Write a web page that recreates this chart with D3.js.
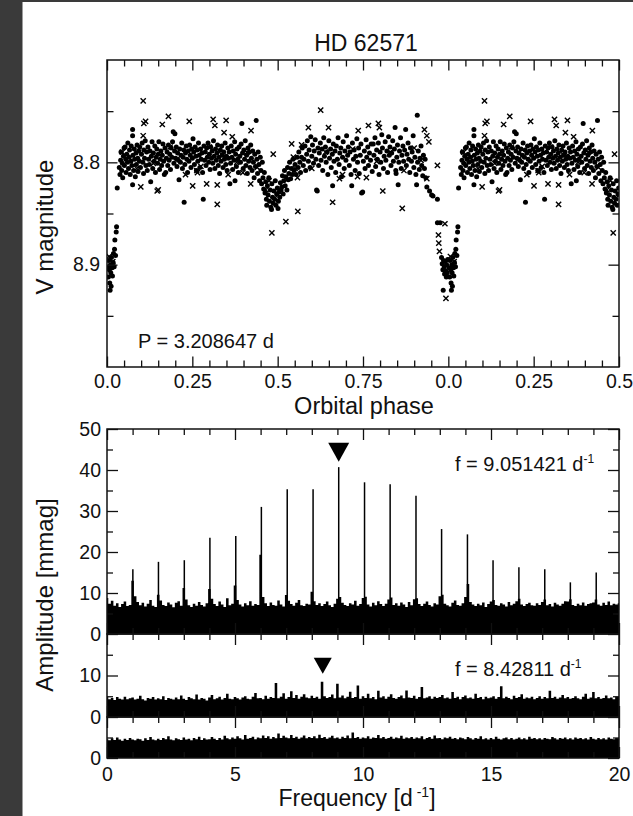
<!DOCTYPE html>
<html><head><meta charset="utf-8">
<script src="https://cdn.jsdelivr.net/npm/d3@7"></script>
<style>
body{margin:0;background:#fff}
svg{display:block}
text{font-family:"Liberation Sans",Arial,Helvetica,sans-serif;fill:#111}
</style>
</head><body>
<svg id="c" width="633" height="816"></svg>
<script>
// ---------------- DATA ----------------
const title = "HD 62571";
const periodText = "P = 3.208647 d";
// light-curve points [orbital phase, V mag], phase 0..1 (plotted again at phase+1)
const dots = [
[0.002,8.903],[0.004,8.912],[0.005,8.896],[0.007,8.905],[0.008,8.918],[0.009,8.925],[0.010,8.900],[0.011,8.908],[0.012,8.921],[0.013,8.893],[0.015,8.903],[0.016,8.911],[0.018,8.898],[0.019,8.889],[0.021,8.902],[0.022,8.885],[0.023,8.876],[0.025,8.891],[0.027,8.868],[0.028,8.863],[0.030,8.825],
[0.036,8.805],[0.038,8.812],[0.040,8.798],[0.041,8.790],[0.043,8.808],[0.045,8.801],[0.046,8.815],[0.048,8.794],[0.050,8.786],[0.051,8.803],[0.053,8.785],[0.055,8.797],[0.056,8.810],[0.058,8.792],[0.060,8.800],[0.061,8.781],[0.063,8.806],[0.065,8.795],[0.066,8.788],[0.068,8.812],[0.070,8.799],[0.071,8.784],[0.073,8.803],[0.075,8.768],[0.075,8.774],[0.075,8.822],[0.076,8.793],[0.078,8.808],[0.080,8.787],[0.081,8.797],[0.083,8.814],[0.085,8.791],[0.086,8.802],[0.088,8.783],[0.090,8.796],[0.091,8.809],[0.093,8.789],[0.095,8.799],[0.096,8.785],[0.098,8.805],
[0.101,8.792],[0.103,8.781],[0.105,8.800],[0.107,8.811],[0.108,8.788],[0.110,8.796],[0.112,8.779],[0.114,8.803],[0.116,8.790],[0.118,8.808],[0.120,8.785],[0.122,8.797],[0.124,8.802],[0.126,8.789],[0.128,8.819],[0.130,8.794],[0.132,8.780],[0.134,8.806],[0.136,8.791],[0.138,8.799],[0.140,8.784],[0.142,8.810],[0.144,8.795],[0.146,8.787],[0.148,8.801],[0.150,8.792],[0.152,8.780],[0.154,8.807],[0.156,8.797],[0.158,8.789],[0.160,8.803],[0.162,8.793],[0.164,8.782],[0.166,8.799],[0.168,8.812],[0.170,8.786],[0.172,8.810],[0.174,8.796],[0.176,8.790],[0.178,8.803],[0.180,8.783],[0.182,8.798],[0.184,8.792],[0.186,8.807],[0.188,8.786],[0.190,8.795],[0.192,8.780],[0.194,8.770],[0.196,8.801],[0.198,8.789],[0.199,8.772],[0.201,8.796],[0.203,8.785],[0.205,8.804],[0.207,8.791],[0.209,8.798],[0.211,8.817],[0.213,8.787],[0.215,8.800],[0.217,8.793],[0.219,8.781],[0.221,8.806],[0.223,8.795],[0.225,8.788],[0.226,8.839],[0.228,8.802],[0.230,8.791],[0.232,8.784],[0.234,8.797],[0.236,8.810],[0.238,8.789],[0.240,8.799],[0.242,8.783],[0.244,8.793],[0.246,8.805],[0.248,8.787],
[0.250,8.796],[0.252,8.777],[0.254,8.790],[0.256,8.802],[0.258,8.785],[0.260,8.794],[0.262,8.808],[0.264,8.788],[0.266,8.799],[0.268,8.781],[0.270,8.793],[0.272,8.805],[0.274,8.787],[0.276,8.797],[0.278,8.791],[0.280,8.810],[0.282,8.836],[0.284,8.784],[0.286,8.798],[0.288,8.790],[0.290,8.803],[0.292,8.786],[0.294,8.795],[0.296,8.781],[0.298,8.800],[0.300,8.792],[0.302,8.807],[0.304,8.785],[0.306,8.796],[0.308,8.789],[0.310,8.801],[0.312,8.779],[0.314,8.794],[0.316,8.806],[0.318,8.787],[0.320,8.798],[0.322,8.791],[0.324,8.783],[0.326,8.803],[0.328,8.795],[0.330,8.811],[0.332,8.788],[0.334,8.799],[0.336,8.784],[0.338,8.793],[0.340,8.805],[0.342,8.790],[0.344,8.797],[0.346,8.781],[0.348,8.802],[0.350,8.794],[0.352,8.808],[0.354,8.786],[0.356,8.796],[0.358,8.790],[0.360,8.821],[0.362,8.801],[0.364,8.784],[0.366,8.795],[0.368,8.807],[0.370,8.789],[0.372,8.798],[0.374,8.780],[0.375,8.818],[0.377,8.792],[0.379,8.804],[0.381,8.787],[0.383,8.797],[0.385,8.810],[0.387,8.785],[0.389,8.794],[0.391,8.800],[0.393,8.782],[0.395,8.762],[0.397,8.791],[0.399,8.806],[0.401,8.788],[0.403,8.797],[0.405,8.779],[0.407,8.803],[0.409,8.793],[0.411,8.811],[0.413,8.786],[0.415,8.799],[0.417,8.790],[0.419,8.805],[0.421,8.783],[0.423,8.796],[0.425,8.808],[0.427,8.789],[0.429,8.800],[0.431,8.815],[0.433,8.792],[0.435,8.804],[0.437,8.759],[0.439,8.797],[0.441,8.811],[0.443,8.790],[0.445,8.802],[0.447,8.818],[0.449,8.795],
[0.451,8.808],[0.453,8.821],[0.455,8.800],[0.457,8.815],[0.459,8.826],[0.461,8.810],[0.463,8.830],[0.465,8.819],[0.467,8.836],[0.468,8.842],[0.470,8.823],[0.472,8.832],[0.474,8.815],[0.476,8.838],[0.478,8.827],[0.480,8.844],[0.482,8.846],[0.483,8.821],[0.485,8.834],[0.487,8.840],[0.489,8.828],[0.491,8.836],[0.493,8.818],[0.495,8.842],[0.497,8.831],[0.499,8.825],[0.501,8.845],[0.502,8.838],[0.504,8.829],[0.506,8.834],[0.508,8.820],[0.510,8.827],[0.512,8.824],[0.514,8.813],[0.516,8.831],[0.518,8.818],[0.520,8.808],[0.522,8.823],[0.524,8.814],[0.527,8.827],[0.529,8.805],[0.531,8.817],[0.533,8.811],[0.535,8.800],[0.538,8.816],[0.540,8.806],[0.543,8.812],[0.545,8.797],[0.548,8.808],[0.551,8.802],[0.554,8.812],[0.557,8.795],
[0.560,8.805],[0.562,8.790],[0.565,8.800],[0.567,8.810],[0.570,8.795],[0.572,8.786],[0.575,8.803],[0.577,8.797],[0.580,8.784],[0.582,8.808],[0.585,8.792],[0.587,8.779],[0.590,8.799],[0.592,8.788],[0.595,8.805],[0.597,8.775],[0.600,8.794],[0.602,8.783],[0.605,8.801],[0.607,8.789],[0.610,8.778],[0.612,8.797],[0.614,8.827],[0.616,8.828],[0.618,8.786],[0.620,8.803],[0.622,8.791],[0.625,8.781],[0.627,8.798],[0.630,8.787],[0.632,8.808],[0.635,8.776],[0.637,8.794],[0.640,8.785],[0.642,8.800],[0.645,8.790],[0.647,8.812],[0.650,8.779],[0.652,8.796],[0.655,8.787],[0.657,8.805],[0.660,8.792],[0.661,8.823],[0.663,8.782],[0.665,8.799],[0.668,8.789],[0.670,8.810],[0.672,8.784],[0.675,8.797],[0.677,8.776],[0.680,8.802],[0.682,8.791],[0.685,8.786],[0.687,8.814],[0.690,8.795],[0.692,8.780],[0.695,8.806],[0.697,8.789],[0.700,8.798],[0.702,8.774],[0.705,8.793],[0.707,8.785],[0.710,8.803],[0.712,8.790],[0.715,8.812],[0.717,8.823],[0.719,8.781],[0.722,8.797],[0.724,8.788],[0.727,8.808],[0.729,8.794],[0.732,8.777],[0.734,8.800],[0.737,8.786],[0.739,8.811],[0.742,8.793],[0.744,8.782],[0.746,8.830],[0.749,8.829],[0.751,8.799],[0.754,8.789],[0.756,8.806],[0.759,8.778],[0.761,8.795],[0.764,8.785],[0.766,8.803],[0.769,8.791],
[0.772,8.798],[0.774,8.782],[0.777,8.809],[0.780,8.782],[0.782,8.793],[0.785,8.776],[0.787,8.804],[0.790,8.788],[0.792,8.797],[0.795,8.781],[0.797,8.812],[0.800,8.790],[0.802,8.800],[0.805,8.773],[0.807,8.786],[0.810,8.806],[0.812,8.794],[0.815,8.780],[0.817,8.798],[0.820,8.789],[0.822,8.810],[0.825,8.775],[0.827,8.793],[0.829,8.785],[0.832,8.803],[0.834,8.791],[0.837,8.779],[0.839,8.799],[0.842,8.787],[0.844,8.766],[0.846,8.808],[0.847,8.811],[0.849,8.795],[0.851,8.783],[0.853,8.822],[0.855,8.800],[0.857,8.789],[0.860,8.776],[0.862,8.806],[0.864,8.793],[0.867,8.784],[0.869,8.799],[0.872,8.788],[0.875,8.768],[0.877,8.803],[0.879,8.792],[0.882,8.781],[0.884,8.797],[0.887,8.810],[0.889,8.786],[0.892,8.799],[0.894,8.790],[0.897,8.774],[0.899,8.805],[0.902,8.795],[0.905,8.812],[0.907,8.822],[0.909,8.754],[0.910,8.800],[0.912,8.789],[0.915,8.807],[0.917,8.796],[0.920,8.784],[0.922,8.803],[0.925,8.813],[0.927,8.793],[0.930,8.806],[0.932,8.797],[0.934,8.815],
[0.937,8.824],[0.945,8.828],[0.951,8.832],[0.955,8.833],[0.968,8.836],[0.968,8.859],[0.976,8.859],[0.980,8.893],[0.982,8.899],[0.984,8.905],[0.985,8.925],[0.986,8.896],[0.988,8.902],[0.989,8.909],[0.991,8.897],[0.992,8.906],[0.994,8.912],[0.995,8.900],[0.997,8.908],[0.998,8.895]
];
const crosses = [
[0.006,8.892],[0.017,8.897],[0.045,8.790],[0.087,8.806],[0.099,8.824],[0.106,8.740],[0.106,8.774],[0.108,8.762],[0.113,8.760],[0.136,8.801],[0.147,8.828],[0.150,8.827],[0.162,8.763],[0.180,8.755],[0.185,8.785],[0.205,8.797],[0.230,8.812],[0.241,8.760],[0.251,8.823],[0.263,8.808],[0.265,8.810],[0.275,8.804],[0.292,8.821],[0.300,8.785],[0.311,8.758],[0.316,8.764],[0.323,8.822],[0.323,8.841],[0.335,8.792],[0.343,8.771],[0.349,8.759],[0.355,8.812],[0.367,8.775],[0.380,8.800],[0.398,8.810],[0.410,8.790],[0.421,8.821],[0.422,8.769],[0.440,8.805],[0.465,8.827],[0.475,8.818],[0.483,8.869],[0.487,8.792],[0.500,8.832],[0.524,8.858],[0.541,8.782],[0.546,8.795],[0.551,8.806],[0.558,8.815],[0.559,8.848],[0.570,8.783],[0.590,8.766],[0.600,8.806],[0.626,8.749],[0.640,8.790],[0.649,8.766],[0.661,8.839],[0.681,8.816],[0.690,8.812],[0.720,8.787],[0.734,8.814],[0.736,8.769],[0.760,8.815],[0.766,8.764],[0.790,8.799],[0.795,8.762],[0.798,8.766],[0.808,8.828],[0.830,8.790],[0.865,8.845],[0.870,8.808],[0.900,8.786],[0.920,8.798],[0.930,8.768],[0.937,8.774],[0.943,8.780],[0.937,8.816],[0.968,8.803],[0.971,8.871],[0.972,8.879],[0.974,8.887],[0.990,8.860],[0.993,8.933]
];
const phaseTickVals = [0,0.25,0.5,0.75,1,1.25,1.5];
const phaseTickLabels = ["0.0","0.25","0.5","0.75","0.0","0.25","0.5"];
const magTickVals = [8.8,8.9];

// amplitude spectra: frequency grid 0..20 d^-1, step 0.1
const freqStep = 0.1;
const noiseA = [8.8,7.4,8.1,6.9,7.5,6.6,7.3,7.9,6.8,7.1,
13.0,9.2,7.8,7.0,7.6,6.7,7.4,8.3,6.9,6.6,
9.6,8.2,7.1,6.8,7.7,7.2,6.5,7.6,8.0,6.9,
11.2,8.4,7.0,6.6,7.4,6.9,7.8,7.1,6.7,7.5,
11.0,8.6,7.3,6.8,7.9,7.2,6.6,8.7,7.0,7.4,
11.8,8.3,7.2,6.7,7.5,7.0,8.0,6.9,7.3,7.1,
19.3,9.0,7.5,6.8,7.7,7.1,6.9,8.2,7.2,6.7,
9.5,8.1,7.3,6.9,7.6,8.3,7.0,6.8,7.4,7.2,
10.3,8.0,7.1,7.5,6.8,7.3,7.9,7.0,6.6,7.4,
8.6,9.0,7.6,7.1,6.8,7.5,7.2,8.1,6.9,7.3,
8.8,9.1,7.2,6.7,7.6,7.0,8.0,7.3,6.8,7.4,
8.4,8.9,7.1,7.5,6.9,7.7,7.2,6.6,7.8,7.0,
8.5,8.7,7.3,6.8,7.4,7.9,7.1,6.7,7.5,7.2,
9.2,9.6,7.4,7.0,6.7,7.6,8.2,7.1,6.9,7.5,
9.0,12.2,7.8,7.2,6.8,7.4,7.0,7.7,6.6,7.3,
7.9,8.3,7.1,6.9,7.5,7.2,6.7,7.8,7.0,7.4,
8.0,8.6,7.2,6.8,7.3,7.6,7.0,6.9,7.5,7.1,
7.8,8.4,7.0,7.3,6.7,7.6,7.2,6.9,7.4,8.0,
7.9,8.5,7.1,6.8,7.4,7.0,7.7,6.9,7.3,7.5,
7.7,8.4,7.2,6.9,7.6,7.1,7.9,7.0,7.4,7.2,
7.5];
const noiseB = [5.0,4.3,4.6,4.1,4.8,4.4,4.2,4.9,4.3,4.5,
4.7,4.2,4.4,5.1,4.3,4.0,4.6,4.4,4.8,4.2,
4.5,4.3,5.0,4.1,4.6,4.4,4.2,4.7,4.3,5.2,
4.4,4.1,4.8,4.5,4.3,5.4,4.2,4.6,4.4,4.0,
4.7,5.3,4.3,4.5,4.9,4.2,4.6,5.6,4.4,4.3,
4.8,4.5,4.2,4.7,5.0,4.4,4.3,4.9,5.8,4.5,
4.6,4.3,5.1,4.4,4.8,4.6,8.2,4.5,4.9,5.7,
4.4,4.8,6.2,4.6,5.3,4.4,4.9,5.5,4.7,4.5,
5.1,4.6,4.9,4.4,8.5,5.0,4.6,4.8,5.4,4.5,
8.0,4.7,5.2,4.5,4.9,6.1,4.6,4.8,7.6,4.4,
5.0,4.6,5.6,4.5,4.8,4.3,6.3,4.7,5.0,4.4,
4.9,5.5,4.6,4.4,4.8,5.2,4.5,6.4,4.7,4.6,
5.1,4.4,4.8,7.2,4.5,4.7,5.0,4.4,4.9,4.6,
4.8,5.3,4.5,4.7,4.4,6.0,4.6,4.9,4.3,4.8,
5.2,4.5,4.7,4.4,5.6,4.6,4.8,4.3,4.9,4.5,
4.7,5.0,4.4,4.8,7.4,4.5,4.9,4.6,4.3,5.1,
4.6,4.8,5.5,4.4,4.7,4.5,4.9,4.3,4.6,5.0,
4.4,4.8,4.5,6.3,4.6,4.9,4.4,4.7,5.3,4.5,
4.8,4.4,4.6,5.0,4.5,4.3,4.9,5.6,4.4,4.7,
6.0,4.5,4.8,4.4,4.6,5.2,4.5,4.7,4.3,4.9,
4.8];
const noiseC = [4.6,4.3,4.8,4.4,5.0,4.5,4.2,4.7,4.4,4.9,
4.5,4.3,4.7,4.6,4.2,4.8,4.4,5.1,4.5,4.3,
4.7,4.4,4.9,4.6,5.3,4.5,4.3,4.8,4.6,4.4,
5.0,4.5,4.7,4.3,4.9,4.6,5.2,4.4,4.8,4.5,
4.6,5.1,4.7,4.4,4.9,4.5,5.4,4.8,4.6,5.0,
4.7,5.3,4.8,4.5,5.6,4.7,4.9,5.2,4.6,5.0,
4.8,5.5,4.9,5.3,4.7,5.1,4.8,6.0,4.9,5.4,
5.0,4.8,5.6,4.9,5.2,4.7,5.0,5.5,4.8,5.1,
4.9,5.3,4.8,5.7,4.9,5.1,4.7,5.0,5.4,4.8,
5.0,4.7,5.2,4.9,5.5,4.8,6.2,4.9,5.1,4.7,
5.0,4.8,5.3,4.7,5.0,4.9,5.6,4.8,5.1,4.7,
4.9,5.2,4.7,5.0,4.8,5.4,4.7,5.0,4.8,5.1,
4.7,5.0,4.8,5.3,4.6,4.9,5.1,4.7,5.5,4.8,
4.9,4.6,5.0,4.8,5.2,4.7,4.9,4.6,5.0,4.8,
4.6,5.1,4.8,4.5,4.9,4.7,5.3,4.6,4.8,4.5,
4.9,4.6,5.2,4.7,4.5,4.8,5.0,4.6,4.9,4.5,
4.7,5.0,4.6,4.8,4.5,5.2,4.7,4.9,4.6,4.8,
4.5,4.9,4.7,4.6,5.1,4.8,4.5,4.9,4.7,5.0,
4.6,4.8,4.5,5.0,4.7,4.9,4.6,4.8,4.5,5.1,
4.7,4.5,4.9,4.6,4.8,4.5,5.0,4.7,4.6,4.9,
4.8];
// alias peaks in the first spectrum
const peakFreqA = [1.01,2.01,3.02,4.02,5.03,6.03,7.04,8.05,9.051421,10.06,11.06,12.07,13.07,14.08,15.08,16.09,17.10,18.10,19.11];
const peakAmpA  = [15.8,17.6,18.0,23.5,23.9,31.0,35.3,35.3,40.7,37.0,36.5,33.7,25.6,24.3,18.0,16.3,15.8,12.6,15.0];
const markerFreq = [9.051421, 8.42811];
const markerTip  = [42.0, 10.4];
const freqLabels = ["f = 9.051421 d", "f = 8.42811 d"];
const ampTicksA = [0,10,20,30,40,50], ampMinorA = [5,15,25,35,45];
const ampTicksB = [0,10], ampMinorB = [5,15];
const ampTicksC = [0], ampMinorC = [5];
const freqTicks = [0,5,10,15,20];

// ---------------- DRAW ----------------
const svg = d3.select("#c");
svg.append("rect").attr("width",633).attr("height",816).attr("fill","#fff");
svg.append("rect").attr("x",0).attr("y",0).attr("width",22.5).attr("height",816).attr("fill","#3a3a3a");
svg.append("rect").attr("x",0).attr("y",0).attr("width",633).attr("height",2).attr("fill","#3a3a3a");

const L = 107, R = 619;
const INK = "#111";
const tickFont = 19.5;

function styleAxis(g){
  g.attr("font-size",null).attr("font-family",null);
  g.select(".domain").remove();
  g.selectAll(".tick line").attr("stroke",INK).attr("stroke-width",1.3);
  g.selectAll(".tick text").attr("fill",INK).style("font-size",tickFont+"px");
}
function frame(xs, ys, top, bottom, o){
  const mk = (axisFn, pos, scale, vals, len, fmt, pad) => {
    const ax = axisFn(scale).tickValues(vals).tickSizeInner(-len).tickSizeOuter(0).tickPadding(pad||6)
      .tickFormat(fmt || (()=>""));
    svg.append("g").attr("transform", pos).call(ax).call(styleAxis);
  };
  mk(d3.axisLeft, `translate(${L},0)`, ys, o.yMinor, o.minLen);
  mk(d3.axisLeft, `translate(${L},0)`, ys, o.yMajor, o.majLen, o.yFmt, o.yPad);
  mk(d3.axisRight, `translate(${R},0)`, ys, o.yMinor, o.minLen);
  mk(d3.axisRight, `translate(${R},0)`, ys, o.yMajor, o.majLen);
  mk(d3.axisTop, `translate(0,${top})`, xs, o.xMinor, o.minLen);
  mk(d3.axisTop, `translate(0,${top})`, xs, o.xMajor, o.majLen);
  mk(d3.axisBottom, `translate(0,${bottom})`, xs, o.xMinor, o.minLen);
  mk(d3.axisBottom, `translate(0,${bottom})`, xs, o.xMajor, o.majLen, o.xFmt, o.xPad);
  svg.append("rect").attr("x",L).attr("y",top).attr("width",R-L).attr("height",bottom-top)
    .attr("fill","none").attr("stroke",INK).attr("stroke-width",1.5);
}

// ---- Light curve panel ----
const xP = d3.scaleLinear().domain([0,1.5]).range([L,R]);
const yM = d3.scaleLinear().domain([8.7,9.0]).range([60,367]);
svg.append("clipPath").attr("id","clipLC").append("rect")
  .attr("x",L).attr("y",60).attr("width",R-L).attr("height",307);
const expand = arr => arr.flatMap(([p,m]) => p+1 <= 1.5 ? [[p,m],[p+1,m]] : [[p,m]]);
const lc = svg.append("g").attr("clip-path","url(#clipLC)");
lc.selectAll("circle.d").data(expand(dots)).join("circle")
  .attr("cx",d=>xP(d[0])).attr("cy",d=>yM(d[1])).attr("r",2.5).attr("fill","#000");
lc.selectAll("path.x").data(expand(crosses)).join("path")
  .attr("transform",d=>`translate(${xP(d[0])},${yM(d[1])})`)
  .attr("d","M-2.6,-2.6L2.6,2.6M-2.6,2.6L2.6,-2.6")
  .attr("stroke","#000").attr("stroke-width",1.4).attr("fill","none");

const phaseMinor = d3.range(0,1.5001,0.05).filter(v => Math.abs(v/0.25 - Math.round(v/0.25)) > 1e-6);
frame(xP, yM, 60, 367, {
  yMinor:[8.75,8.85,8.95], yMajor:magTickVals, minLen:6.5, majLen:10.5,
  yFmt:d3.format(".1f"), yPad:7,
  xMinor:phaseMinor, xMajor:phaseTickVals,
  xFmt:(d,i)=>phaseTickLabels[i], xPad:7
});

svg.append("text").attr("x",366).attr("y",51).attr("text-anchor","middle")
  .style("font-size","23px").text(title);
svg.append("text").attr("x",138).attr("y",347.5).style("font-size","20px").text(periodText);
svg.append("text").attr("x",364).attr("y",414).attr("text-anchor","middle")
  .style("font-size","23.5px").text("Orbital phase");
svg.append("text").attr("transform","translate(53,227) rotate(-90)").attr("text-anchor","middle")
  .style("font-size","24px").text("V magnitude");

// ---- Amplitude spectra ----
const xF = d3.scaleLinear().domain([0,20]).range([L,R]);
const panels = [
  {noise:noiseA, y:d3.scaleLinear().domain([0,50]).range([634,429]), top:429, bottom:634, major:ampTicksA, minor:ampMinorA},
  {noise:noiseB, y:d3.scaleLinear().domain([0,20]).range([717,634]), top:634, bottom:717, major:ampTicksB, minor:ampMinorB},
  {noise:noiseC, y:d3.scaleLinear().domain([0,10]).range([758,717]), top:717, bottom:758, major:ampTicksC, minor:ampMinorC}
];
const fMinor = d3.range(0,20.001,1).filter(v => v%5 !== 0);
panels.forEach((p,k) => {
  const id = "clipF"+k;
  svg.append("clipPath").attr("id",id).append("rect")
    .attr("x",L).attr("y",p.top).attr("width",R-L).attr("height",p.bottom-p.top);
  const g = svg.append("g").attr("clip-path",`url(#${id})`);
  const area = d3.area().curve(d3.curveStep).x((d,i)=>xF(i*freqStep)).y0(p.y(0)).y1(d=>p.y(d));
  g.append("path").datum(p.noise).attr("d",area).attr("fill","#000");
  if (k === 0) {
    g.selectAll("line.pk").data(peakFreqA).join("line")
      .attr("x1",d=>xF(d)).attr("x2",d=>xF(d))
      .attr("y1",p.y(0)).attr("y2",(d,i)=>p.y(peakAmpA[i]))
      .attr("stroke","#000").attr("stroke-width",1.5);
  }
  frame(xF, p.y, p.top, p.bottom, {
    yMinor:p.minor, yMajor:p.major, minLen:6, majLen:11,
    yFmt:d3.format("d"), yPad:6,
    xMinor:fMinor, xMajor:freqTicks,
    xFmt: k===2 ? d3.format("d") : null, xPad:9.5
  });
});

// markers and frequency labels
const triW = [21,18], triH = [19,16];
[0,1].forEach(k => {
  const ys = panels[k].y;
  const cx = xF(markerFreq[k]), ty = ys(markerTip[k]);
  svg.append("path")
    .attr("d", `M${cx},${ty}L${cx-triW[k]/2},${ty-triH[k]}L${cx+triW[k]/2},${ty-triH[k]}Z`)
    .attr("fill","#000");
  const t = svg.append("text").attr("x",455).attr("y",[471,675.5][k]).style("font-size","20px");
  t.append("tspan").text(freqLabels[k]);
  t.append("tspan").attr("dy",-8).style("font-size","12px").text("-1");
});

const fl = svg.append("text").attr("x",357).attr("y",806).attr("text-anchor","middle").style("font-size","23px");
fl.append("tspan").text("Frequency [d");
fl.append("tspan").attr("dx",4).attr("dy",-9).style("font-size","14px").text("-1");
fl.append("tspan").attr("dy",9).text("]");
svg.append("text").attr("transform","translate(53,595) rotate(-90)").attr("text-anchor","middle")
  .style("font-size","24px").text("Amplitude [mmag]");
</script>
</body></html>
